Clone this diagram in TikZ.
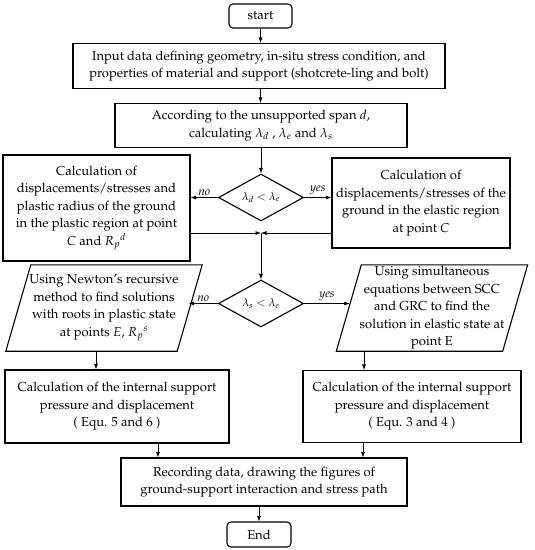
\documentclass[tikz,border=0pt]{standalone}
\usepackage[T1]{fontenc}
\usepackage{mathpazo}
\usetikzlibrary{shapes.geometric,arrows.meta,calc}
\begin{document}
\begin{tikzpicture}[x=1pt,y=-1pt,
  font=\fontsize{13}{17.5}\selectfont,
  box/.style={draw,line width=1.1pt,rectangle,align=center,inner sep=0pt},
  term/.style={box,rounded corners=4pt},
  dia/.style={draw,line width=1.1pt,diamond,aspect=1.8,inner sep=0pt,font=\fontsize{11}{12}\selectfont},
  txt/.style={align=center,inner sep=0pt},
  pline/.style={line width=1.1pt},
  arr/.style={-{Latex[length=5.5pt,width=4pt]},line width=0.7pt},
  lab/.style={font=\fontsize{12}{12}\selectfont\itshape,inner sep=2pt}]
\useasboundingbox (0,0) rectangle (535,550);
\node[term,minimum width=63pt,minimum height=24pt] (start) at (260.5,16) {start};
\node[box,minimum width=372pt,minimum height=45pt] (input) at (259,66) {Input data defining geometry, in-situ stress condition, and\\ properties of material and support (shotcrete-ling and bolt)};
\node[box,minimum width=292pt,minimum height=44pt] (acc) at (261,125.5) {According to the unsupported span $d$,\\ calculating $\lambda_d$ , $\lambda_e$ and $\lambda_s$};
\node[dia,minimum width=85pt,minimum height=47pt] (d1) at (261,197.5) {$\lambda_d < \lambda_e$};
\node[box,minimum width=187pt,minimum height=106pt] (L1) at (96.5,208) {Calculation of\\ displacements/stresses and\\ plastic radius of the ground\\ in the plastic region at point\\ $C$ and $R_p{}^d$};
\node[box,minimum width=178pt,minimum height=90pt] (R1) at (421,203) {Calculation of\\ displacements/stresses of the\\ ground in the elastic region\\ at point $C$};
\coordinate (m) at (261,233);
\node[dia,minimum width=85pt,minimum height=47pt] (d2) at (261,303.5) {$\lambda_s < \lambda_e$};
\node[txt,minimum width=171pt,minimum height=86pt] (Lp) at (104,308) {Using Newton's recursive\\ method to find solutions\\ with roots in plastic state\\ at points $E$, $R_p{}^s$};
\draw[pline] ($(Lp.north west)+(12.5,0)$) -- ($(Lp.north east)+(12.5,0)$) -- ($(Lp.south east)+(-12.5,0)$) -- ($(Lp.south west)+(-12.5,0)$) -- cycle;
\node[txt,minimum width=166pt,minimum height=86pt] (Rp) at (432,308) {Using simultaneous\\ equations between SCC\\ and GRC to find the\\ solution in elastic state at\\ point E};
\draw[pline] ($(Rp.north west)+(12.5,0)$) -- ($(Rp.north east)+(12.5,0)$) -- ($(Rp.south east)+(-12.5,0)$) -- ($(Rp.south west)+(-12.5,0)$) -- cycle;
\node[box,minimum width=224pt,minimum height=73pt] (cL) at (117,406.5) {Calculation of the internal support\\ pressure and displacement\\ ( Equ. 5 and 6 )};
\node[box,minimum width=218pt,minimum height=72pt] (cR) at (412,406.5) {Calculation of the internal support\\ pressure and displacement\\ ( Equ. 3 and 4 )};
\node[box,minimum width=286pt,minimum height=48pt] (rec) at (264,482) {Recording data, drawing the figures of\\ ground-support interaction and stress path};
\node[term,minimum width=64pt,minimum height=25pt] (end) at (259,534.5) {End};
\coordinate (pL) at (96,351);
\coordinate (pR) at (364,351);
\coordinate (qL) at (158,443);
\coordinate (qR) at (363,443);
\draw[arr] (start) -- (start|-input.north);
\draw[arr] (start|-input.south) -- (start|-acc.north);
\draw[arr] (d1|-acc.south) -- (d1.north);
\draw[arr] (d1.west) -- node[lab,above]{no} (d1.west-|L1.east);
\draw[arr] (d1.east) -- node[lab,above]{yes} (d1.east-|R1.west);
\draw[arr] (m-|L1.east) -- (m);
\draw[arr] (m-|R1.west) -- (m);
\draw[arr] (m) -- (d2.north);
\draw[arr] (d2.west) -- node[lab,above]{no} ($(d2.west-|Lp.east)+(-1,0)$);
\draw[arr] (d2.east) -- node[lab,above]{yes} ($(d2.east-|Rp.west)+(1,0)$);
\draw[arr] (pL) -- (pL|-cL.north);
\draw[arr] (pR) -- (pR|-cR.north);
\draw[arr] (qL) -- (qL|-rec.north);
\draw[arr] (qR) -- (qR|-rec.north);
\draw[arr] (end|-rec.south) -- (end.north);
\end{tikzpicture}
\end{document}
